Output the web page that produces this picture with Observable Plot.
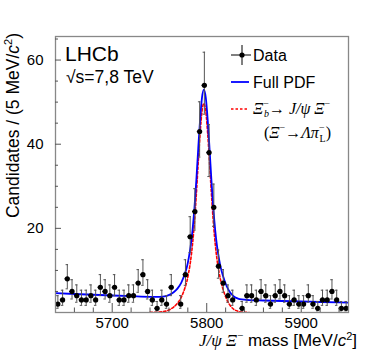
<!DOCTYPE html>
<html><head><meta charset="utf-8">
<script src="https://cdn.jsdelivr.net/npm/d3@7"></script>
<script src="https://cdn.jsdelivr.net/npm/@observablehq/plot@0.6"></script>
<style>body{margin:0;background:#fff}#chart{width:366px;height:351px}</style>
</head><body><div id="chart"></div>
<script>
// Bin centres (5 MeV bins) of the J/psi Xi- mass histogram
const binCenter = [5642.5,5647.5,5652.5,5657.5,5662.5,5667.5,5672.5,5677.5,5682.5,5687.5,
  5692.5,5697.5,5702.5,5707.5,5712.5,5717.5,5722.5,5727.5,5732.5,5737.5,
  5742.5,5747.5,5752.5,5757.5,5762.5,5767.5,5772.5,5777.5,5782.5,5787.5,
  5792.5,5797.5,5802.5,5807.5,5812.5,5817.5,5822.5,5827.5,5832.5,5837.5,
  5842.5,5847.5,5852.5,5857.5,5862.5,5867.5,5872.5,5877.5,5882.5,5887.5,
  5892.5,5897.5,5902.5,5907.5,5912.5,5917.5,5922.5,5927.5,5932.5,5937.5,
  5942.5,5947.5];
const counts = [2,3,8,5,4,3,3,4,3,6, 5,4,6,3,3,4,4,7,9,5, 3,1,3,2,6,0,2,9,18,24,
  43,54,38,25,11,7,4,3,0,1, 4,4,3,5,4,2,4,5,4,2, 3,2,2,4,2,1,3,3,5,3, 1,1];
// Full PDF curve (signal + background)
const pdfMass = [5640,5660,5680,5700,5720,5740,5750,5757,5761,5765,5769,5773,
  5777,5779,5781,5783,5785,5787,5789,5791,5793,5795,5797,5799,5801,5803,5805,5807,5809,5811,5813,5815,5817,
  5821,5825,5829,5833,5837,5845,5860,5880,5900,5920,5950];
const pdfValue = [4.60,4.40,4.22,4.04,3.87,3.72,3.73,3.92,4.24,4.81,5.68,7.05,
  9.32,10.81,12.99,15.78,19.66,24.85,31.43,38.92,45.9,51.09,52.97,51.06,45.84,38.83,31.32,24.7,19.49,15.57,12.76,10.54,8.83,
  6.3,4.68,3.75,3.32,3.1,2.95,2.85,2.73,2.62,2.5,2.35];
// Signal component Xi_b -> J/psi Xi
const sigMass = [5740,5750,5757,5761,5765,5769,5773,
  5777,5779,5781,5783,5785,5787,5789,5791,5793,5795,5797,5799,5801,5803,5805,5807,5809,5811,5813,5815,5817,
  5821,5825,5829,5833,5837,5845];
const sigValue = [0.02,0.1,0.35,0.7,1.3,2.2,3.6,
  5.9,7.4,9.6,12.4,16.3,21.5,28.1,35.6,42.6,47.8,49.7,47.8,42.6,35.6,28.1,21.5,16.3,12.4,9.6,7.4,5.7,
  3.2,1.6,0.7,0.3,0.1,0];
const xMajor = [5700,5800,5900];
const xMinor = [5660,5680,5720,5740,5760,5780,5820,5840,5860,5880,5920,5940];
const yMajor = [20,40,60];
const yMinor = [5,10,15,25,30,35,45,50,55,65];

const hist = binCenter.map((m,i)=>{const n=counts[i];const s=Math.sqrt(n+0.25);
  return {m, n, lo:n-(s-0.5), hi:n+s+0.5};}).filter(d=>d.n>0);
const pdf = pdfMass.map((m,i)=>({m, v:pdfValue[i]}));
const sig = sigMass.map((m,i)=>({m, v:sigValue[i]}));
const FONT = "'Liberation Sans', Arial, Helvetica, sans-serif";
const SERIF = "'Liberation Serif', 'Times New Roman', serif";

const plot = Plot.plot({
  width:366, height:351,
  marginLeft:55, marginRight:18, marginTop:36, marginBottom:39,
  style:{fontFamily:FONT, fontSize:"15px", background:"#fff", color:"#000"},
  x:{domain:[5640,5950]},
  y:{domain:[0,65.6]},
  marks:[
    Plot.line(sig,{x:"m",y:"v",stroke:"#ff0000",strokeWidth:1.6,strokeDasharray:"2.5,2",curve:"monotone-x",clip:true}),
    Plot.line(pdf,{x:"m",y:"v",stroke:"#0000ff",strokeWidth:1.8,curve:"monotone-x",clip:true}),
    Plot.ruleX(hist,{x:"m",y1:"lo",y2:"hi",stroke:"#555",strokeWidth:1,clip:true}),
    Plot.ruleY(hist,{y:"hi",x1:d=>d.m-1.3,x2:d=>d.m+1.3,stroke:"#555",strokeWidth:1}),
    Plot.ruleY(hist,{y:"lo",x1:d=>d.m-1.3,x2:d=>d.m+1.3,stroke:"#555",strokeWidth:1}),
    Plot.ruleY(hist,{y:"n",x1:d=>d.m-2.5,x2:d=>d.m+2.5,stroke:"#000",strokeWidth:1}),
    Plot.dot(hist,{x:"m",y:"n",r:2.6,fill:"#000"}),
    Plot.frame({stroke:"#888",strokeWidth:1.3}),
    Plot.axisX({ticks:xMajor,tickSize:-9,fill:"none",stroke:"#555",label:null}),
    Plot.axisX({ticks:xMinor,tickSize:-4.5,fill:"none",stroke:"#555",label:null}),
    Plot.axisX({ticks:xMajor,tickSize:0,tickPadding:4.5,label:null,tickFormat:d=>String(d)}),
    Plot.axisY({ticks:yMajor,tickSize:-6,fill:"none",stroke:"#555",label:null}),
    Plot.axisY({ticks:yMinor,tickSize:-3,fill:"none",stroke:"#555",label:null}),
    Plot.axisY({ticks:yMajor,tickSize:0,tickPadding:12,label:null,tickFormat:d=>String(d)})
  ]
});
document.getElementById("chart").appendChild(plot);

const svg = d3.select(plot);
const g = svg.append("g").attr("font-family",FONT).attr("fill","#000").attr("text-anchor","start");
// LHCb label
g.append("text").attr("x",65).attr("y",61).attr("font-size",21).text("LHCb");
g.append("text").attr("x",66).attr("y",83).attr("font-size",17.5).text("√s=7,8 TeV");

// legend
const lg = g.append("g");
lg.append("line").attr("x1",231).attr("x2",251).attr("y1",55).attr("y2",55).attr("stroke","#000");
lg.append("line").attr("x1",242).attr("x2",242).attr("y1",45).attr("y2",65).attr("stroke","#000");
lg.append("circle").attr("cx",242).attr("cy",55).attr("r",2.6).attr("fill","#000");
lg.append("text").attr("x",253).attr("y",61).attr("font-size",16).text("Data");
lg.append("line").attr("x1",231).attr("x2",249).attr("y1",82).attr("y2",82).attr("stroke","#0000ff").attr("stroke-width",1.8);
lg.append("text").attr("x",253).attr("y",88).attr("font-size",16).text("Full PDF");
lg.append("line").attr("x1",231).attr("x2",249).attr("y1",109).attr("y2",109).attr("stroke","#ff0000").attr("stroke-width",1.6).attr("stroke-dasharray","2.5,2");
const t1 = lg.append("text").attr("x",253).attr("y",114).attr("font-size",16).attr("font-family",SERIF);
t1.append("tspan").attr("font-style","italic").text("Ξ");
t1.append("tspan").attr("font-size",10).attr("dy",-7).text("−");
t1.append("tspan").attr("font-size",10).attr("font-style","italic").attr("dx",-5).attr("dy",10).text("b");
t1.append("tspan").attr("dy",-3).text("→ ");
t1.append("tspan").attr("font-style","italic").text("J/ψ Ξ");
t1.append("tspan").attr("font-size",10).attr("dy",-7).text("−");
const t2 = lg.append("text").attr("x",264).attr("y",138).attr("font-size",16).attr("font-family",SERIF);
t2.append("tspan").text("(");
t2.append("tspan").attr("font-style","italic").text("Ξ");
t2.append("tspan").attr("font-size",10).attr("dy",-7).text("−");
t2.append("tspan").attr("dy",7).text("→");
t2.append("tspan").attr("font-style","italic").text("Λπ");
t2.append("tspan").attr("font-size",10).attr("dy",-7).text("−");
t2.append("tspan").attr("font-size",10).attr("dx",-5).attr("dy",11).text("L");
t2.append("tspan").attr("dy",-4).text(")");

// x title
const xt = g.append("text").attr("x",357).attr("y",346).attr("font-size",17).attr("text-anchor","end");
xt.append("tspan").attr("font-family",SERIF).attr("font-style","italic").text("J/ψ Ξ");
xt.append("tspan").attr("font-family",SERIF).attr("font-size",11).attr("dy",-7).text("−");
xt.append("tspan").attr("dy",7).text(" mass [MeV/");
xt.append("tspan").attr("font-style","italic").text("c");
xt.append("tspan").attr("font-size",11).attr("dy",-6).text("2");
xt.append("tspan").attr("dy",6).text("]");

// y title
const yt = g.append("text").attr("transform","translate(18.5,33) rotate(-90)").attr("font-size",17.5).attr("text-anchor","end");
yt.append("tspan").text("Candidates / (5 MeV/");
yt.append("tspan").attr("font-style","italic").text("c");
yt.append("tspan").attr("font-size",11).attr("dy",-7).text("2");
yt.append("tspan").attr("dy",7).text(")");
</script>
</body></html>
